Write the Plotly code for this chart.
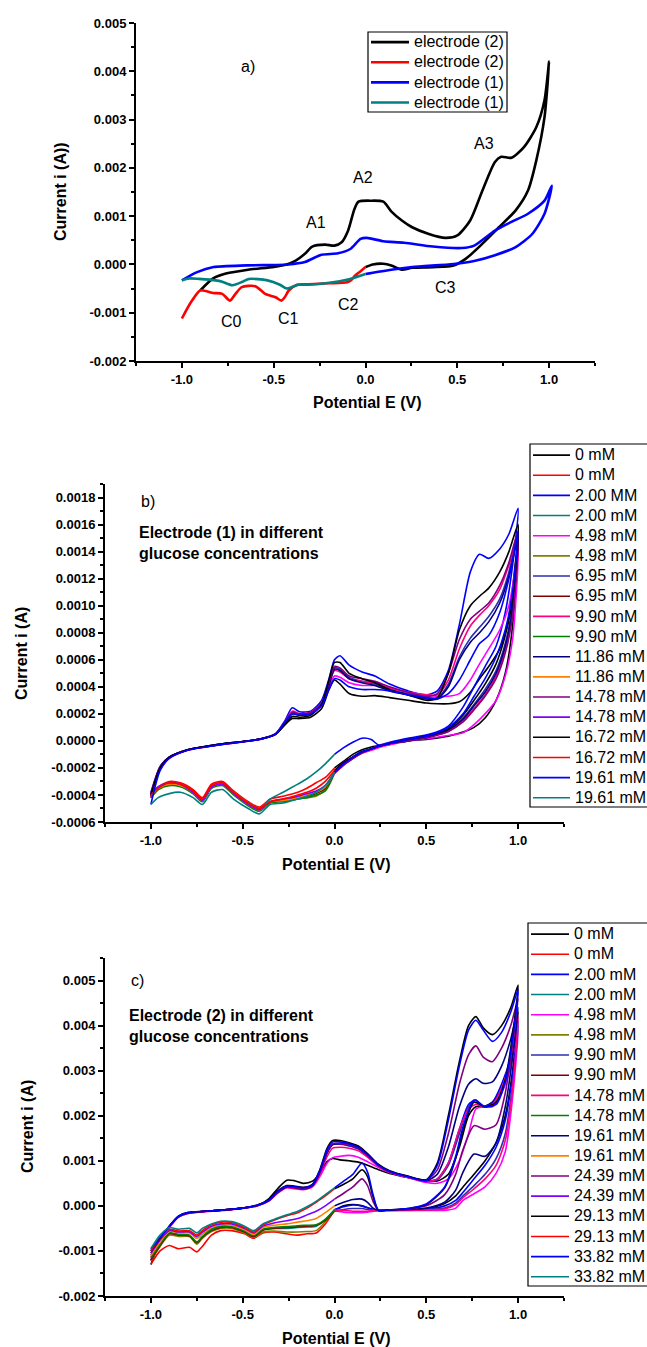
import plotly.graph_objects as go

MA = 1e-3  # all current values below are typed in mA; the axes are in A
FONT = "Liberation Sans, Arial, sans-serif"
W, H = 647, 1347

# ---------------- Panel a ----------------
a_legend = ["electrode (2)", "electrode (2)", "electrode (1)", "electrode (1)"]
a_colors = ["#000000", "#FF0000", "#0000FF", "#008080"]

a_e2_an_E = [-0.90, -0.83, -0.76, -0.64, -0.50, -0.43, -0.38, -0.33, -0.29, -0.22, -0.17, -0.13, -0.095, -0.06,
             -0.038, 0.03, 0.097, 0.14, 0.198, 0.254, 0.345, 0.435, 0.50, 0.57, 0.637, 0.705, 0.739, 0.795, 0.863,
             0.93, 0.975, 1.0, 0.975, 0.93, 0.885, 0.818, 0.727, 0.637, 0.547, 0.48, 0.367, 0.254, 0.198, 0.14,
             0.097, 0.04, 0.0]
a_e2_an_I = [-0.54, -0.29, -0.19, -0.11, -0.05, 0.0, 0.08, 0.22, 0.37, 0.41, 0.39, 0.46, 0.70, 1.15, 1.30, 1.32,
             1.30, 1.10, 0.91, 0.77, 0.63, 0.55, 0.60, 0.91, 1.53, 2.12, 2.23, 2.21, 2.43, 2.84, 3.40, 4.20, 3.05,
             2.15, 1.53, 1.12, 0.77, 0.43, 0.12, -0.02, -0.055, -0.07, -0.11, -0.02, 0.014, 0.0, -0.055]
a_e2_cat_E = [0.0, -0.03, -0.056, -0.08, -0.10, -0.20, -0.31, -0.373, -0.418, -0.44, -0.458, -0.49, -0.546, -0.60,
              -0.674, -0.71, -0.738, -0.78, -0.83, -0.90, -0.95, -1.0]
a_e2_cat_I = [-0.055, -0.15, -0.23, -0.33, -0.37, -0.39, -0.41, -0.42, -0.54, -0.68, -0.75, -0.68, -0.61, -0.45,
              -0.47, -0.62, -0.75, -0.61, -0.59, -0.54, -0.78, -1.12]
a_e1_an_E = [-1.0, -0.917, -0.827, -0.646, -0.42, -0.33, -0.24, -0.15, -0.083, -0.027, 0.007, 0.097, 0.21, 0.367,
             0.525, 0.592, 0.705, 0.795, 0.885, 0.975, 1.015, 0.975, 0.908, 0.818, 0.705, 0.592, 0.48, 0.254, 0.14,
             0.03, 0.0]
a_e1_an_I = [-0.33, -0.16, -0.055, -0.02, 0.0, 0.05, 0.20, 0.23, 0.32, 0.53, 0.55, 0.48, 0.45, 0.37, 0.34, 0.39,
             0.70, 0.88, 1.05, 1.32, 1.63, 1.05, 0.63, 0.36, 0.19, 0.07, 0.01, -0.055, -0.11, -0.18, -0.20]
a_e1_cat_E = [0.0, -0.083, -0.196, -0.31, -0.365, -0.428, -0.466, -0.534, -0.635, -0.67, -0.725, -0.78, -0.816,
              -0.907, -0.96, -1.0]
a_e1_cat_I = [-0.20, -0.30, -0.38, -0.42, -0.42, -0.50, -0.42, -0.33, -0.30, -0.36, -0.43, -0.36, -0.33, -0.30,
              -0.29, -0.33]

# ---------------- Panel b (electrode 1) ----------------
b_legend = ["0 mM", "0 mM", "2.00 MM", "2.00 mM", "4.98 mM", "4.98 mM", "6.95 mM", "6.95 mM", "9.90 mM",
            "9.90 mM", "11.86 mM", "11.86 mM", "14.78 mM", "14.78 mM", "16.72 mM", "16.72 mM", "19.61 mM",
            "19.61 mM"]
bc_colors = ["#000000", "#FF0000", "#0000FF", "#008080", "#FF00FF", "#808000", "#2E2EB0", "#800000", "#FF0080",
             "#008000", "#000080", "#FF8000", "#800080", "#8000FF", "#000000", "#FF0000", "#0000FF", "#008080"]

b_E_fwd = [-1.0, -0.95, -0.9, -0.8, -0.7, -0.6, -0.5, -0.4, -0.32, -0.27, -0.23, -0.19, -0.13, -0.07, -0.03, 0.0,
           0.03, 0.08, 0.15, 0.22, 0.3, 0.4, 0.5, 0.56, 0.62, 0.68, 0.74, 0.79, 0.84, 0.9, 0.95, 1.0]
b_E_rev = [0.97, 0.93, 0.88, 0.82, 0.76, 0.7, 0.62, 0.52, 0.4, 0.3, 0.24, 0.2, 0.15, 0.1, 0.05, 0.0]
b_E_cat = [0.0, -0.05, -0.1, -0.15, -0.2, -0.28, -0.35, -0.41, -0.47, -0.55, -0.61, -0.67, -0.72, -0.77, -0.84,
           -0.9, -0.96, -1.0]

b0_an = [-0.40, -0.20, -0.12, -0.065, -0.04, -0.02, -0.005, 0.015, 0.05, 0.12, 0.165, 0.165, 0.175, 0.24, 0.38,
         0.45, 0.42, 0.35, 0.33, 0.335, 0.32, 0.30, 0.28, 0.275, 0.275, 0.29, 0.36, 0.46, 0.55, 0.68, 0.92, 1.50,
         0.85, 0.50, 0.30, 0.17, 0.10, 0.065, 0.035, 0.015, 0.0, -0.02, -0.035, -0.045, -0.065, -0.10, -0.15, -0.20]
b0_cat = [-0.20, -0.27, -0.31, -0.35, -0.38, -0.41, -0.43, -0.49, -0.45, -0.37, -0.30, -0.32, -0.42, -0.36, -0.31,
          -0.30, -0.34, -0.40]
b1_an = [-0.38, -0.19, -0.12, -0.065, -0.04, -0.02, -0.005, 0.015, 0.055, 0.15, 0.245, 0.215, 0.22, 0.30, 0.46,
         0.60, 0.63, 0.56, 0.51, 0.48, 0.42, 0.37, 0.34, 0.37, 0.52, 0.86, 1.25, 1.38, 1.35, 1.42, 1.53, 1.72,
         1.30, 0.95, 0.70, 0.55, 0.40, 0.25, 0.11, 0.05, 0.02, -0.01, -0.03, 0.01, 0.02, -0.01, -0.05, -0.10]
b1_cat = [-0.10, -0.17, -0.23, -0.28, -0.32, -0.38, -0.43, -0.50, -0.46, -0.39, -0.32, -0.34, -0.44, -0.38, -0.32,
          -0.31, -0.34, -0.38]
b2_an = [-0.42, -0.21, -0.13, -0.07, -0.045, -0.025, -0.008, 0.012, 0.05, 0.14, 0.21, 0.20, 0.21, 0.28, 0.40,
         0.48, 0.47, 0.43, 0.41, 0.41, 0.39, 0.36, 0.34, 0.33, 0.33, 0.35, 0.45, 0.57, 0.68, 0.82, 1.00, 1.38,
         0.75, 0.48, 0.30, 0.20, 0.12, 0.06, 0.04, 0.02, 0.0, -0.03, -0.05, -0.07, -0.09, -0.12, -0.16, -0.22]
b2_cat = [-0.22, -0.36, -0.41, -0.42, -0.43, -0.44, -0.45, -0.50, -0.46, -0.38, -0.32, -0.34, -0.44, -0.38, -0.33,
          -0.33, -0.36, -0.42]
b3_an = [-0.41, -0.20, -0.125, -0.068, -0.043, -0.022, -0.006, 0.014, 0.05, 0.13, 0.20, 0.19, 0.20, 0.27, 0.42,
         0.54, 0.53, 0.47, 0.44, 0.42, 0.38, 0.35, 0.32, 0.32, 0.42, 0.62, 0.76, 0.84, 0.92, 1.05, 1.25, 1.55,
         1.00, 0.72, 0.52, 0.38, 0.27, 0.17, 0.08, 0.03, 0.0, -0.02, -0.04, -0.06, -0.08, -0.12, -0.17, -0.23]
b3_cat = [-0.23, -0.35, -0.39, -0.41, -0.42, -0.44, -0.45, -0.51, -0.47, -0.39, -0.32, -0.35, -0.44, -0.39, -0.33,
          -0.32, -0.35, -0.41]
b4_an = [-0.42, -0.20, -0.125, -0.068, -0.043, -0.022, -0.006, 0.014, 0.05, 0.14, 0.22, 0.20, 0.21, 0.28, 0.42,
         0.52, 0.51, 0.46, 0.44, 0.43, 0.39, 0.36, 0.34, 0.34, 0.45, 0.68, 0.85, 0.93, 1.00, 1.12, 1.30, 1.50,
         0.95, 0.68, 0.48, 0.34, 0.24, 0.15, 0.07, 0.03, 0.0, -0.02, -0.04, -0.06, -0.09, -0.13, -0.18, -0.24]
b4_cat = [-0.24, -0.37, -0.40, -0.42, -0.43, -0.45, -0.46, -0.52, -0.48, -0.40, -0.33, -0.35, -0.45, -0.39, -0.34,
          -0.33, -0.36, -0.42]
b5_an = [-0.40, -0.20, -0.125, -0.068, -0.043, -0.022, -0.006, 0.014, 0.05, 0.13, 0.20, 0.19, 0.20, 0.27, 0.41,
         0.53, 0.52, 0.46, 0.43, 0.41, 0.37, 0.34, 0.31, 0.31, 0.40, 0.60, 0.73, 0.80, 0.88, 1.02, 1.22, 1.50,
         0.98, 0.70, 0.50, 0.36, 0.26, 0.16, 0.08, 0.03, 0.0, -0.02, -0.04, -0.06, -0.08, -0.12, -0.17, -0.23]
b5_cat = [-0.23, -0.34, -0.38, -0.40, -0.42, -0.44, -0.45, -0.51, -0.47, -0.39, -0.32, -0.34, -0.44, -0.38, -0.33,
          -0.32, -0.35, -0.40]
b6_an = [-0.39, -0.19, -0.12, -0.066, -0.042, -0.021, -0.005, 0.015, 0.052, 0.14, 0.21, 0.20, 0.21, 0.28, 0.43,
         0.55, 0.54, 0.48, 0.46, 0.44, 0.40, 0.36, 0.33, 0.35, 0.50, 0.75, 0.90, 0.96, 1.02, 1.15, 1.32, 1.55,
         0.92, 0.65, 0.46, 0.33, 0.23, 0.14, 0.07, 0.03, 0.0, -0.02, -0.04, -0.06, -0.09, -0.13, -0.18, -0.24]
b6_cat = [-0.24, -0.33, -0.37, -0.39, -0.41, -0.43, -0.45, -0.51, -0.47, -0.39, -0.32, -0.34, -0.44, -0.38, -0.32,
          -0.31, -0.34, -0.39]
b7_an = [-0.40, -0.20, -0.12, -0.065, -0.04, -0.02, -0.005, 0.015, 0.05, 0.12, 0.18, 0.175, 0.19, 0.27, 0.45,
         0.58, 0.58, 0.50, 0.46, 0.43, 0.38, 0.34, 0.30, 0.32, 0.50, 0.82, 1.00, 1.07, 1.13, 1.25, 1.40, 1.60,
         1.05, 0.78, 0.57, 0.42, 0.30, 0.19, 0.09, 0.04, 0.01, -0.02, -0.04, -0.06, -0.08, -0.12, -0.16, -0.22]
b7_cat = [-0.22, -0.30, -0.35, -0.38, -0.40, -0.43, -0.45, -0.50, -0.46, -0.38, -0.31, -0.33, -0.43, -0.37, -0.32,
          -0.31, -0.35, -0.40]
b8_an = [-0.47, -0.22, -0.13, -0.07, -0.045, -0.024, -0.007, 0.013, 0.05, 0.14, 0.20, 0.19, 0.20, 0.26, 0.38,
         0.46, 0.45, 0.40, 0.38, 0.38, 0.37, 0.34, 0.32, 0.31, 0.35, 0.45, 0.60, 0.72, 0.78, 0.95, 1.20, 1.55,
         1.10, 0.82, 0.62, 0.46, 0.33, 0.20, 0.10, 0.04, 0.01, -0.02, -0.04, -0.06, -0.08, -0.12, -0.17, -0.23]
b8_cat = [-0.23, -0.33, -0.38, -0.41, -0.43, -0.46, -0.47, -0.54, -0.50, -0.43, -0.36, -0.38, -0.47, -0.42, -0.38,
          -0.39, -0.42, -0.47]

# ---------------- Panel c (electrode 2) ----------------
c_legend = ["0 mM", "0 mM", "2.00 mM", "2.00 mM", "4.98 mM", "4.98 mM", "9.90 mM", "9.90 mM", "14.78 mM",
            "14.78 mM", "19.61 mM", "19.61 mM", "24.39 mM", "24.39 mM", "29.13 mM", "29.13 mM", "33.82 mM",
            "33.82 mM"]

c_E_fwd = [-1.0, -0.95, -0.9, -0.85, -0.8, -0.7, -0.6, -0.5, -0.42, -0.36, -0.31, -0.26, -0.22, -0.17, -0.12,
           -0.08, -0.04, -0.01, 0.03, 0.08, 0.13, 0.18, 0.24, 0.3, 0.4, 0.5, 0.56, 0.62, 0.68, 0.73, 0.77, 0.81,
           0.86, 0.91, 0.96, 1.0]
c_E_rev = [0.97, 0.93, 0.88, 0.82, 0.76, 0.7, 0.66, 0.6, 0.5, 0.4, 0.3, 0.24, 0.21, 0.18, 0.15, 0.1, 0.05, 0.0]
c_E_cat = [0.0, -0.05, -0.1, -0.15, -0.2, -0.26, -0.33, -0.39, -0.44, -0.49, -0.56, -0.62, -0.67, -0.72, -0.75,
           -0.79, -0.85, -0.9, -0.95, -1.0]

c0_an = [-1.30, -0.80, -0.48, -0.25, -0.17, -0.12, -0.09, -0.05, 0.00, 0.15, 0.38, 0.57, 0.56, 0.50, 0.55, 0.72,
         0.98, 1.05, 1.02, 1.00, 0.97, 0.90, 0.80, 0.72, 0.63, 0.56, 0.55, 0.70, 1.30, 2.00, 2.20, 2.20, 2.30,
         2.60, 3.20, 4.30,
         3.00, 2.00, 1.40, 1.00, 0.70, 0.42, 0.22, 0.05, -0.06, -0.08, -0.09, -0.10, -0.08, -0.04, 0.00, 0.03,
         0.00, -0.10]
c0_cat = [-0.10, -0.40, -0.60, -0.62, -0.65, -0.62, -0.58, -0.60, -0.72, -0.62, -0.55, -0.55, -0.65, -0.90, -1.02,
          -0.92, -0.95, -0.88, -1.00, -1.30]
c1_an = [-1.00, -0.72, -0.46, -0.24, -0.16, -0.12, -0.09, -0.05, 0.01, 0.12, 0.30, 0.42, 0.40, 0.37, 0.45, 0.75,
         1.20, 1.37, 1.38, 1.34, 1.27, 1.10, 0.88, 0.75, 0.63, 0.55, 0.60, 0.95, 1.70, 2.25, 2.35, 2.20, 2.30,
         2.70, 3.30, 4.10,
         2.90, 1.90, 1.30, 0.90, 0.60, 0.30, 0.12, 0.00, -0.07, -0.08, -0.09, -0.10, -0.08, -0.04, 0.00, 0.02,
         -0.02, -0.08]
c1_cat = [-0.08, -0.30, -0.45, -0.47, -0.48, -0.50, -0.50, -0.53, -0.68, -0.57, -0.46, -0.45, -0.50, -0.62, -0.72,
          -0.58, -0.57, -0.53, -0.72, -1.00]
c2_an = [-1.22, -0.78, -0.48, -0.25, -0.17, -0.13, -0.10, -0.06, 0.00, 0.10, 0.28, 0.40, 0.38, 0.36, 0.42, 0.65,
         0.95, 1.07, 1.10, 1.12, 1.08, 0.98, 0.85, 0.74, 0.63, 0.52, 0.50, 0.60, 1.00, 1.60, 2.15, 2.20, 2.20,
         2.50, 3.10, 3.90,
         2.40, 1.20, 0.72, 0.42, 0.27, 0.12, -0.05, -0.10, -0.10, -0.10, -0.10, -0.11, -0.12, -0.14, -0.15,
         -0.15, -0.14, -0.10]
c2_cat = [-0.10, -0.35, -0.55, -0.57, -0.58, -0.58, -0.56, -0.58, -0.70, -0.60, -0.50, -0.50, -0.57, -0.72, -0.85,
          -0.68, -0.68, -0.65, -0.90, -1.22]
c3_an = [-1.20, -0.76, -0.47, -0.24, -0.16, -0.12, -0.09, -0.05, 0.01, 0.11, 0.30, 0.42, 0.41, 0.38, 0.45, 0.74,
         1.18, 1.36, 1.37, 1.33, 1.26, 1.10, 0.88, 0.75, 0.64, 0.54, 0.58, 0.90, 1.60, 2.20, 2.35, 2.20, 2.25,
         2.60, 3.20, 4.00,
         2.70, 1.60, 1.05, 0.70, 0.45, 0.22, 0.06, -0.05, -0.08, -0.09, -0.10, -0.10, -0.10, -0.08, -0.06,
         -0.06, -0.08, -0.12]
c3_cat = [-0.12, -0.32, -0.43, -0.45, -0.46, -0.48, -0.50, -0.54, -0.68, -0.58, -0.48, -0.48, -0.55, -0.70, -0.82,
          -0.67, -0.65, -0.62, -0.88, -1.20]
c4_an = [-1.15, -0.75, -0.47, -0.24, -0.16, -0.12, -0.09, -0.05, 0.01, 0.11, 0.29, 0.41, 0.39, 0.37, 0.44, 0.70,
         1.10, 1.28, 1.30, 1.28, 1.22, 1.08, 0.87, 0.75, 0.64, 0.55, 0.60, 0.95, 1.70, 2.15, 2.25, 2.20, 2.25,
         2.60, 3.30, 4.20,
         2.60, 1.45, 0.90, 0.60, 0.38, 0.18, 0.03, -0.07, -0.09, -0.10, -0.10, -0.10, -0.10, -0.12, -0.12,
         -0.12, -0.10, -0.10]
c4_cat = [-0.10, -0.30, -0.42, -0.43, -0.44, -0.46, -0.48, -0.52, -0.66, -0.56, -0.47, -0.46, -0.53, -0.68, -0.80,
          -0.65, -0.63, -0.60, -0.85, -1.15]
c5_an = [-1.10, -0.74, -0.46, -0.24, -0.16, -0.12, -0.09, -0.05, 0.01, 0.11, 0.30, 0.42, 0.41, 0.38, 0.45, 0.74,
         1.18, 1.36, 1.38, 1.35, 1.28, 1.12, 0.90, 0.76, 0.65, 0.56, 0.70, 1.30, 2.20, 2.70, 2.82, 2.72, 2.75,
         3.10, 3.70, 4.40,
         3.30, 2.20, 1.40, 1.10, 1.15, 0.75, 0.35, 0.08, -0.05, -0.08, -0.09, -0.10, -0.05, 0.08, 0.15, 0.14,
         0.08, 0.00]
c5_cat = [0.00, -0.15, -0.28, -0.33, -0.36, -0.40, -0.43, -0.48, -0.63, -0.53, -0.43, -0.42, -0.48, -0.62, -0.72,
          -0.60, -0.60, -0.56, -0.80, -1.10]
c6_an = [-1.05, -0.73, -0.46, -0.24, -0.16, -0.12, -0.09, -0.05, 0.01, 0.12, 0.31, 0.43, 0.41, 0.38, 0.46, 0.76,
         1.20, 1.38, 1.38, 1.35, 1.28, 1.12, 0.90, 0.76, 0.65, 0.57, 0.80, 1.60, 2.70, 3.35, 3.55, 3.30, 3.20,
         3.50, 4.00, 4.60,
         3.60, 2.50, 1.80, 1.70, 1.78, 1.25, 0.70, 0.25, 0.00, -0.07, -0.09, -0.10, 0.10, 0.45, 0.60, 0.42,
         0.28, 0.15]
c6_cat = [0.15, 0.00, -0.12, -0.20, -0.28, -0.33, -0.38, -0.45, -0.60, -0.50, -0.40, -0.40, -0.45, -0.58, -0.68,
          -0.58, -0.58, -0.55, -0.75, -1.05]
c7_an = [-1.00, -0.72, -0.45, -0.23, -0.15, -0.12, -0.09, -0.05, 0.02, 0.13, 0.33, 0.45, 0.44, 0.41, 0.48, 0.80,
         1.28, 1.45, 1.45, 1.40, 1.33, 1.16, 0.92, 0.78, 0.66, 0.58, 0.95, 2.00, 3.20, 4.00, 4.20, 3.95, 3.80,
         4.00, 4.40, 4.90,
         3.80, 2.80, 2.30, 2.20, 2.30, 1.70, 1.05, 0.40, 0.03, -0.06, -0.09, -0.10, 0.20, 0.65, 0.80, 0.60,
         0.48, 0.38]
c7_cat = [0.38, 0.22, 0.08, -0.05, -0.15, -0.22, -0.32, -0.42, -0.58, -0.48, -0.37, -0.36, -0.42, -0.55, -0.65,
          -0.55, -0.56, -0.52, -0.70, -1.00]
c8_an = [-0.95, -0.70, -0.45, -0.23, -0.15, -0.12, -0.09, -0.05, 0.02, 0.12, 0.32, 0.44, 0.43, 0.40, 0.47, 0.78,
         1.25, 1.42, 1.42, 1.38, 1.30, 1.14, 0.90, 0.77, 0.65, 0.57, 0.90, 1.90, 3.10, 3.90, 4.12, 3.90, 3.65,
         3.85, 4.30, 4.80,
         3.70, 2.75, 2.25, 2.20, 2.35, 1.75, 1.10, 0.42, 0.04, -0.06, -0.09, -0.10, 0.25, 0.75, 0.95, 0.70,
         0.55, 0.40]
c8_cat = [0.40, 0.25, 0.10, -0.02, -0.12, -0.20, -0.30, -0.40, -0.55, -0.45, -0.35, -0.34, -0.40, -0.50, -0.60,
          -0.50, -0.52, -0.48, -0.65, -0.95]

# ---------------- Axis tick labels ----------------
x_tick_vals = [-1.0, -0.5, 0.0, 0.5, 1.0]
x_tick_text = ["-1.0", "-0.5", "0.0", "0.5", "1.0"]
ac_tick_vals = [-0.002, -0.001, 0.0, 0.001, 0.002, 0.003, 0.004, 0.005]
ac_tick_text = ["-0.002", "-0.001", "0.000", "0.001", "0.002", "0.003", "0.004", "0.005"]
b_tick_vals = [-0.0006, -0.0004, -0.0002, 0.0, 0.0002, 0.0004, 0.0006, 0.0008, 0.0010, 0.0012, 0.0014, 0.0016,
               0.0018]
b_tick_text = ["-0.0006", "-0.0004", "-0.0002", "0.0000", "0.0002", "0.0004", "0.0006", "0.0008", "0.0010",
               "0.0012", "0.0014", "0.0016", "0.0018"]

# ---------------- Build figure ----------------
fig = go.Figure()


def leg_name(s):
    return "<span style='font-size:16px'>" + s + "</span>"


def add(xs, ys_ma, color, name, ax, legend, width):
    fig.add_trace(go.Scatter(
        x=xs, y=[v * MA for v in ys_ma], mode="lines", name=leg_name(name),
        line=dict(color=color, width=width, shape="spline", smoothing=0.7),
        xaxis="x" + ax, yaxis="y" + ax, legend=legend, showlegend=True, hoverinfo="skip"))


# panel a
a_series = [(a_e2_an_E, a_e2_an_I), (a_e2_cat_E, a_e2_cat_I), (a_e1_an_E, a_e1_an_I), (a_e1_cat_E, a_e1_cat_I)]
for (xs, ys), col, nm in zip(a_series, a_colors, a_legend):
    add(xs, ys, col, nm, "", "legend", 2.6)

# panel b
b_pairs = [(b0_an, b0_cat), (b1_an, b1_cat), (b2_an, b2_cat), (b3_an, b3_cat), (b4_an, b4_cat),
           (b5_an, b5_cat), (b6_an, b6_cat), (b7_an, b7_cat), (b8_an, b8_cat)]
for i, (an, cat) in enumerate(b_pairs):
    add(b_E_fwd + b_E_rev, an, bc_colors[2 * i], b_legend[2 * i], "2", "legend2", 1.6)
    add(b_E_cat, cat, bc_colors[2 * i + 1], b_legend[2 * i + 1], "2", "legend2", 1.6)

# panel c
c_pairs = [(c0_an, c0_cat), (c1_an, c1_cat), (c2_an, c2_cat), (c3_an, c3_cat), (c4_an, c4_cat),
           (c5_an, c5_cat), (c6_an, c6_cat), (c7_an, c7_cat), (c8_an, c8_cat)]
for i, (an, cat) in enumerate(c_pairs):
    add(c_E_fwd + c_E_rev, an, bc_colors[2 * i], c_legend[2 * i], "3", "legend3", 1.6)
    add(c_E_cat, cat, bc_colors[2 * i + 1], c_legend[2 * i + 1], "3", "legend3", 1.6)


def px(p):
    return p / W


def py(p):
    return 1 - p / H


tickfont = dict(family=FONT, size=13, color="black", weight="bold")


def xaxis(dom, anchor):
    return dict(domain=dom, anchor=anchor, range=[-1.25, 1.25], tickmode="array", tickvals=x_tick_vals,
                ticktext=x_tick_text, ticks="outside", ticklen=5, tickwidth=1.5, tickcolor="black",
                showline=True, linecolor="black", linewidth=2, showgrid=False, zeroline=False,
                tickfont=tickfont,
                minor=dict(tickmode="linear", tick0=0, dtick=0.25, ticks="outside", ticklen=3, tickwidth=1.5,
                           tickcolor="black", showgrid=False))


def yaxis(dom, anchor, rng, tv, tt, mdt):
    return dict(domain=dom, anchor=anchor, range=rng, tickmode="array", tickvals=tv, ticktext=tt,
                ticks="outside", ticklen=5, tickwidth=1.5, tickcolor="black", showline=True, linecolor="black",
                linewidth=2, showgrid=False, zeroline=False, tickfont=tickfont,
                minor=dict(tickmode="linear", tick0=0, dtick=mdt, ticks="outside", ticklen=3, tickwidth=1.5,
                           tickcolor="black", showgrid=False))


xdom_a = [px(136), px(595)]
xdom_bc = [px(105), px(564)]

legend_common = dict(xanchor="left", yanchor="top", bgcolor="rgba(0,0,0,0)", borderwidth=0,
                     font=dict(family=FONT, size=13.2, color="black"), traceorder="normal")

fig.update_layout(
    width=W, height=H, margin=dict(l=0, r=0, t=0, b=0, autoexpand=False),
    paper_bgcolor="white", plot_bgcolor="white",
    font=dict(family=FONT, color="black"),
    xaxis=xaxis(xdom_a, "y"),
    yaxis=yaxis([py(361), py(23)], "x", [-0.002, 0.005], ac_tick_vals, ac_tick_text, 0.0005),
    xaxis2=xaxis(xdom_bc, "y2"),
    yaxis2=yaxis([py(822), py(484)], "x2", [-0.0006, 0.0019], b_tick_vals, b_tick_text, 0.0001),
    xaxis3=xaxis(xdom_bc, "y3"),
    yaxis3=yaxis([py(1296), py(958)], "x3", [-0.002, 0.0055], ac_tick_vals, ac_tick_text, 0.0005),
    legend=dict(x=px(366), y=py(27), itemwidth=38, **legend_common),
    legend2=dict(x=px(528), y=py(440), itemwidth=37, **legend_common),
    legend3=dict(x=px(526), y=py(919), itemwidth=38, **legend_common),
    showlegend=True,
)

# legend frames (Origin-style boxes)
for (x0, y0, x1, y1) in [(368, 32, 507, 112), (530, 444, 720, 807), (528, 923, 720, 1286)]:
    fig.add_shape(type="rect", xref="paper", yref="paper", x0=px(x0), x1=px(x1), y0=py(y1), y1=py(y0),
                  line=dict(color="black", width=1.2), fillcolor="rgba(0,0,0,0)", layer="above")

title_font = dict(family=FONT, size=16, color="black", weight="bold")
reg_font = dict(family=FONT, size=16, color="black")
ann = []
# axis titles
for (xc, yc, txt) in [(367, 403, "Potential E (V)"), (336, 865, "Potential E (V)"), (336, 1338, "Potential E (V)")]:
    ann.append(dict(x=px(xc), y=py(yc), xref="paper", yref="paper", text=txt, showarrow=False,
                    font=title_font, xanchor="center", yanchor="middle"))
for (xc, yc, txt) in [(60, 192, "Current i (A))"), (21, 654, "Current i (A)"), (27, 1127, "Current i (A)")]:
    ann.append(dict(x=px(xc), y=py(yc), xref="paper", yref="paper", text=txt, showarrow=False,
                    font=title_font, textangle=-90, xanchor="center", yanchor="middle"))
# panel a peak labels (data coordinates)
for (xv, yv, txt) in [(-0.64, 0.0041, "a)"), (-0.27, 0.00087, "A1"), (-0.014, 0.0018, "A2"), (0.646, 0.0025, "A3"),
                      (-0.728, -0.00118, "C0"), (-0.42, -0.00112, "C1"), (-0.095, -0.00083, "C2"),
                      (0.433, -0.00048, "C3")]:
    ann.append(dict(x=xv, y=yv, xref="x", yref="y", text=txt, showarrow=False, font=reg_font,
                    xanchor="center", yanchor="middle"))
# panel b / c labels
ann.append(dict(x=px(139), y=py(502), xref="paper", yref="paper", text="b)", showarrow=False, font=reg_font,
                xanchor="left", yanchor="middle"))
ann.append(dict(x=px(137), y=py(542.5), xref="paper", yref="paper",
                text="Electrode (1) in different<br>glucose concentrations", showarrow=False, font=title_font,
                xanchor="left", yanchor="middle", align="left"))
ann.append(dict(x=px(129), y=py(980), xref="paper", yref="paper", text="c)", showarrow=False, font=reg_font,
                xanchor="left", yanchor="middle"))
ann.append(dict(x=px(127), y=py(1026), xref="paper", yref="paper",
                text="Electrode (2) in different<br>glucose concentrations", showarrow=False, font=title_font,
                xanchor="left", yanchor="middle", align="left"))
fig.update_layout(annotations=ann)

fig.write_html("out.html")
